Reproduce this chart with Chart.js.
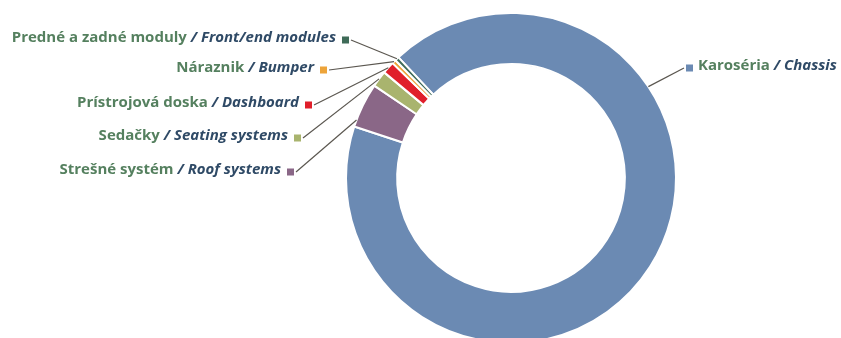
<!DOCTYPE html>
<html>
<head>
<meta charset="utf-8">
<script src="https://cdn.jsdelivr.net/npm/chart.js@4.4.0/dist/chart.umd.min.js"></script>
<style>
    html, body { margin: 0; padding: 0; background: #fff; overflow: hidden; }
    #wrap { position: relative; width: 841px; height: 350px; }
</style>
</head>
<body>
<div id="wrap"><canvas id="donut" width="841" height="350"></canvas></div>
<script>
// Data
const labelsSk = ['Karoséria', 'Strešné systém', 'Sedačky', 'Prístrojová doska', 'Náraznik', 'Predné a zadné moduly'];
const labelsEn = ['Chassis', 'Roof systems', 'Seating systems', 'Dashboard', 'Bumper', 'Front/end modules'];
const shares = [92.0, 4.4, 1.6, 1.2, 0.4, 0.4];
const colors = ['#6b8ab3', '#8a6787', '#a9b46e', '#e01f2a', '#eda43a', '#3f6b58'];

// Label placement: side, marker x, marker y, where on the slice the leader line ends (0..1)
const labelLayout = [
    { side: 'right', x: 686, y: 68, at: 0.30 },
    { side: 'left', x: 287, y: 172, at: 0.15 },
    { side: 'left', x: 294, y: 138, at: 0.5 },
    { side: 'left', x: 305, y: 105, at: 0.5 },
    { side: 'left', x: 320, y: 70, at: 0.5 },
    { side: 'left', x: 342, y: 40, at: 0.5 }
];

const FONT_SK = 'bold 15px "Open Sans"';
const FONT_EN = 'italic bold 15px "Open Sans"';
const COLOR_SK = '#55805f';
const COLOR_EN = '#2f4a66';

// Draws leader lines, markers and the two-language labels
const calloutPlugin = {
    id: 'callouts',
    afterDraw(chart) {
        const ctx = chart.ctx;
        const meta = chart.getDatasetMeta(0);
        ctx.save();
        meta.data.forEach((arc, i) => {
            const lay = labelLayout[i];
            const a = arc.startAngle + (arc.endAngle - arc.startAngle) * lay.at;
            const px = arc.x + Math.cos(a) * arc.outerRadius;
            const py = arc.y + Math.sin(a) * arc.outerRadius;
            const size = 7;

            // leader line
            ctx.strokeStyle = '#5b5750';
            ctx.lineWidth = 1.2;
            ctx.beginPath();
            if (lay.side === 'left') ctx.moveTo(lay.x + size + 2, lay.y);
            else ctx.moveTo(lay.x - 2, lay.y);
            ctx.lineTo(px, py);
            ctx.stroke();

            // marker
            ctx.fillStyle = colors[i];
            ctx.fillRect(lay.x, lay.y - size / 2, size, size);

            // text
            ctx.textBaseline = 'middle';
            const sk = labelsSk[i] + ' ';
            const en = '/ ' + labelsEn[i];
            ctx.font = FONT_SK;
            const wSk = ctx.measureText(sk).width;
            ctx.font = FONT_EN;
            const wEn = ctx.measureText(en).width;
            let tx = lay.side === 'left' ? lay.x - 6 - wSk - wEn : lay.x + size + 5;
            ctx.textAlign = 'left';
            ctx.font = FONT_SK;
            ctx.fillStyle = COLOR_SK;
            ctx.fillText(sk, tx, lay.y - 2);
            ctx.font = FONT_EN;
            ctx.fillStyle = COLOR_EN;
            ctx.fillText(en, tx + wSk, lay.y - 2);
        });
        ctx.restore();
    }
};

function initChart() {
    const ctx = document.getElementById('donut').getContext('2d');
    new Chart(ctx, {
        type: 'doughnut',
        data: {
            labels: labelsSk.map((s, i) => s + ' / ' + labelsEn[i]),
            datasets: [{
                data: shares,
                backgroundColor: colors,
                borderColor: '#ffffff',
                borderWidth: 2
            }]
        },
        options: {
            responsive: false,
            animation: false,
            rotation: -43,
            cutout: '69%',
            layout: {
                padding: { top: 12, bottom: 6, left: 345, right: 164 }
            },
            plugins: {
                legend: { display: false },
                tooltip: { enabled: false }
            }
        },
        plugins: [calloutPlugin]
    });
}

document.fonts.load(FONT_SK).then(() => document.fonts.load(FONT_EN)).then(initChart, initChart);
</script>
</body>
</html>
